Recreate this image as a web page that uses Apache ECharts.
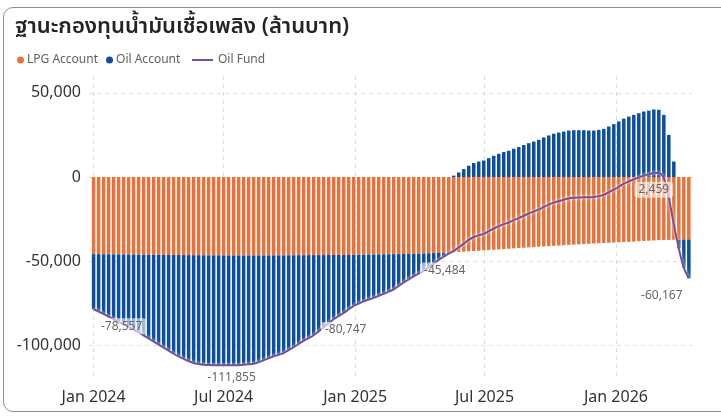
<!DOCTYPE html>
<html>
<head>
    <meta charset="utf-8">
    <title>ฐานะกองทุนน้ำมันเชื้อเพลิง</title>
    <script src="https://cdn.jsdelivr.net/npm/echarts@6/dist/echarts.min.js"></script>
    <style>
        body { margin: 0; background: #fff; }
        #card { position: absolute; left: 3px; top: 7px; width: 740px; height: 403px;
                border: 1px solid #8f8f8f; border-radius: 10px; }
        #echarts { position: absolute; left: 0; top: 0; width: 721px; height: 416px; }
    </style>
</head>
<body>
<div id="card"></div>
<div id="echarts"></div>
<script>
    // weekly points, starting 1 Jan 2024
    var startDate = '2024-01-01';

    // LPG Account (ล้านบาท)
    var lpgValues = [
        -45800, -45830, -45870, -45900, -45940, -45980, -46010, -46050, -46080, -46110,
        -46140, -46170, -46200, -46230, -46260, -46290, -46320, -46350, -46380, -46410,
        -46440, -46460, -46490, -46510, -46530, -46550, -46570, -46580, -46590, -46600,
        -46600, -46600, -46590, -46580, -46570, -46560, -46550, -46540, -46520, -46500,
        -46490, -46470, -46450, -46430, -46410, -46390, -46370, -46350, -46330, -46310,
        -46300, -46260, -46220, -46180, -46140, -46100, -46050, -46000, -45950, -45900,
        -45850, -45790, -45730, -45670, -45600, -45500, -45400, -45300, -45200, -45100,
        -45000, -44850, -44700, -44500, -44300, -44100, -43950, -43800, -43600, -43400,
        -43200, -43000, -42800, -42600, -42400, -42200, -42000, -41800, -41620, -41440,
        -41260, -41080, -40900, -40700, -40500, -40330, -40170, -40000, -39830, -39670,
        -39500, -39360, -39210, -39070, -38930, -38790, -38640, -38500, -38330, -38170,
        -38000, -37830, -37670, -37500, -37430, -37370, -37300, -37230, -37170, -37100
    ];

    // Oil Account (ล้านบาท)
    var oilValues = [
        -32757, -34070, -35530, -37000, -38560, -40020, -41590, -43050, -44620, -46190,
        -47960, -49730, -51600, -53370, -55140, -56910, -58680, -60250, -61620, -62990,
        -64060, -64640, -65010, -65190, -65270, -65280, -65280, -65275, -65250, -65160,
        -65000, -64700, -64310, -63420, -62330, -61140, -59950, -59060, -58080, -56400,
        -54610, -52730, -50850, -49270, -47590, -45310, -42930, -40550, -38170, -36290,
        -34447, -32340, -30280, -29020, -27760, -26700, -25750, -24600, -23450, -22200,
        -20950, -18910, -16870, -15130, -13400, -11900, -10400, -8300, -6200, -4100,
        -2300, -634, 800, 2700, 4700, 6700, 8300, 9200, 9800, 11200,
        12600, 13800, 14800, 15600, 16800, 17800, 19000, 20100, 21100, 22100,
        23500, 24700, 25700, 26400, 27000, 27600, 27800, 27800, 27800, 27600,
        27600, 28000, 28600, 30000, 31400, 33000, 34700, 35900, 36900, 37900,
        38900, 39400, 40129, 39900, 36900, 25000, 9200, -5200, -16700, -23067
    ];

    // points of Oil Fund with a data label
    var labelIndex = [0, 27, 50, 71, 112, 119];
    var labelOffset = [[28, 0], [3, -5], [2, 0], [-4, 0], [0, 0], [-27, 0]];

    var yTicks = [50000, 0, -50000, -100000];
    var monthNames = ['Jan', 'Feb', 'Mar', 'Apr', 'May', 'Jun', 'Jul', 'Aug', 'Sep', 'Oct', 'Nov', 'Dec'];

    var fontFamily = '"Noto Sans", "Noto Sans Thai", "DejaVu Sans", sans-serif';
    var DAY = 3600 * 24 * 1000;

    // build week dates
    var dates = [];
    var t0 = new Date(startDate + 'T00:00:00');
    for (var i = 0; i < lpgValues.length; i++) {
        var d = new Date(t0.getTime());
        d.setDate(d.getDate() + i * 7);
        dates.push(d.getTime());
    }

    var fmt = function (v) {
        return Number(v).toLocaleString('en-US');
    };

    var lpgData = [], oilData = [], fundData = [];
    for (var i = 0; i < dates.length; i++) {
        lpgData.push([dates[i], lpgValues[i]]);
        oilData.push([dates[i], oilValues[i]]);
        var k = labelIndex.indexOf(i);
        var item = { value: [dates[i], lpgValues[i] + oilValues[i]] };
        if (k >= 0) {
            item.label = { show: true, offset: labelOffset[k] };
        }
        fundData.push(item);
    }

    var myChart = echarts.init(document.getElementById('echarts'));
    var option = {
        animation: false,
        textStyle: { fontFamily: fontFamily },
        title: {
            text: 'ฐานะกองทุนน้ำมันเชื้อเพลิง (ล้านบาท)',
            left: 10,
            top: 11,
            textStyle: { fontSize: 22, fontWeight: 600, color: '#252423', fontFamily: fontFamily }
        },
        legend: [{
            data: ['LPG Account', 'Oil Account'],
            icon: 'circle',
            left: 12,
            top: 49,
            itemWidth: 7,
            itemHeight: 7,
            itemGap: 8,
            textStyle: { fontSize: 12, color: '#605E5C', padding: [0, 0, 0, -2] }
        }, {
            data: [{ name: 'Oil Fund', icon: 'rect' }],
            left: 187,
            top: 49,
            itemWidth: 21,
            itemHeight: 2,
            textStyle: { fontSize: 12, color: '#605E5C' }
        }],
        grid: { left: 89, right: 29, top: 76, bottom: 37 },
        xAxis: {
            type: 'time',
            min: '2023-12-28',
            max: '2026-04-15',
            minInterval: DAY * 182,
            maxInterval: DAY * 182,
            axisLine: { show: false },
            axisTick: { show: false },
            axisLabel: {
                showMinLabel: false,
                showMaxLabel: false,
                fontSize: 16,
                fontWeight: 'normal',
                color: '#333',
                margin: 10,
                formatter: function (val) {
                    var d = new Date(val);
                    var m = d.getMonth();
                    if (m !== 0 && m !== 6) {
                        return '';
                    }
                    return monthNames[m] + ' ' + d.getFullYear();
                }
            },
            splitLine: {
                show: true,
                showMinLine: false,
                showMaxLine: false,
                lineStyle: { color: '#dcdcdc', type: [4, 4] }
            }
        },
        yAxis: {
            type: 'value',
            min: -120000,
            max: 60000,
            interval: 10000,
            axisLine: { show: false },
            axisTick: { show: false },
            axisLabel: {
                fontSize: 16,
                color: '#333',
                margin: 8,
                formatter: function (v) {
                    return yTicks.indexOf(v) >= 0 ? fmt(v) : '';
                }
            },
            splitLine: {
                show: true,
                lineStyle: {
                    color: ['rgba(0,0,0,0)', 'rgba(0,0,0,0)', '#dcdcdc', 'rgba(0,0,0,0)', 'rgba(0,0,0,0)'],
                    type: [4, 4]
                }
            }
        },
        series: [{
            name: 'LPG Account',
            type: 'bar',
            stack: 'fund',
            barWidth: 3.5,
            itemStyle: { color: '#E8723A' },
            data: lpgData
        }, {
            name: 'Oil Account',
            type: 'bar',
            stack: 'fund',
            barWidth: 3.5,
            itemStyle: { color: '#0B4EA2' },
            data: oilData
        }, {
            name: 'Oil Fund',
            type: 'line',
            smooth: 0.3,
            symbol: 'circle',
            symbolSize: 0,
            showSymbol: true,
            z: 5,
            itemStyle: { color: '#775093' },
            lineStyle: {
                width: 2,
                color: '#775093',
                shadowColor: 'rgba(255,255,255,0.9)',
                shadowBlur: 3
            },
            label: {
                show: false,
                position: 'bottom',
                distance: 9,
                fontSize: 12,
                color: '#666',
                backgroundColor: 'rgba(255,255,255,0.6)',
                borderRadius: 3,
                padding: [2, 4],
                formatter: function (p) {
                    return fmt(p.value[1]);
                }
            },
            data: fundData
        }]
    };
    myChart.setOption(option);
</script>
</body>
</html>
